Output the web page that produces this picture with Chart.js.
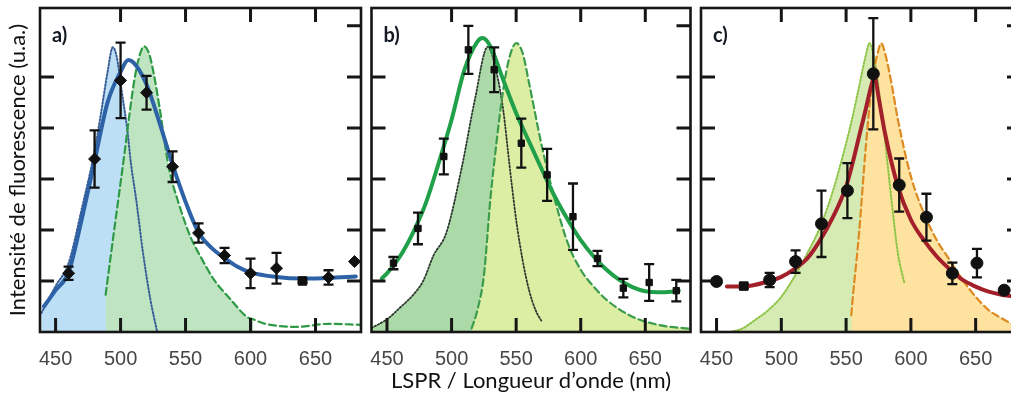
<!DOCTYPE html>
<html><head><meta charset="utf-8">
<script src="https://cdn.jsdelivr.net/npm/chart.js@4"></script>
<style>
html,body{margin:0;padding:0;background:#fff;overflow:hidden;width:1011px;height:397px;position:relative;}
canvas{position:absolute;top:0;}
</style></head><body>
<canvas id="ca" width="368" height="397" style="left:0"></canvas>
<canvas id="cb" width="330" height="397" style="left:366px"></canvas>
<canvas id="cc" width="340" height="397" style="left:694px"></canvas>
<script>
// ---------- axis ticks ----------
const X_TICKS = [450, 500, 550, 600, 650];
const X_TOP_TICKS = [500, 550, 600, 650];
const Y_LEFT_TICKS = [1, 2, 3, 4, 5];
const Y_RIGHT_TICKS = [1, 2, 3, 4, 5, 6];
const X_MIN = 438, X_MAX = 685, Y_MIN = 0, Y_MAX = 6.35;

// ---------- panel a ----------
const aX = [460, 480, 500, 520, 540, 560, 580, 600, 620, 640, 660, 680];
const aY = [1.15, 3.39, 4.93, 4.69, 3.24, 1.94, 1.5, 1.15, 1.25, 1.0, 1.07, 1.38];
const aErr = [0.13, 0.56, 0.74, 0.33, 0.3, 0.19, 0.15, 0.29, 0.3, 0.03, 0.14, 0];
const aFitX = [441, 450, 460, 470, 480, 490, 500, 506, 512, 520, 530, 540, 550, 560, 570, 580, 590, 600, 620, 640, 660, 681];
const aFitY = [0.5, 0.82, 1.17, 2.2, 3.35, 4.5, 5.1, 5.33, 5.22, 4.85, 4.1, 3.28, 2.55, 1.95, 1.65, 1.45, 1.28, 1.17, 1.08, 1.05, 1.06, 1.09];
const aDotX = [439, 450, 460, 470, 480, 485, 490, 494, 497, 501, 505, 508, 512, 517, 523, 528];
const aDotY = [0.37, 0.9, 1.35, 2.4, 3.55, 4.3, 5.1, 5.58, 5.4, 4.7, 4.0, 3.3, 2.6, 1.6, 0.63, 0.02];
const aDashX = [488.5, 493, 498, 503, 507, 511, 515, 518, 522, 526, 530, 537, 545, 554, 560, 572, 585, 597, 602, 610, 635, 660, 685];
const aDashY = [0.73, 1.6, 2.55, 3.5, 4.3, 5.0, 5.45, 5.6, 5.45, 5.0, 4.4, 3.24, 2.5, 1.85, 1.55, 1.02, 0.63, 0.3, 0.25, 0.17, 0.1, 0.16, 0.14];
const aDashFillEnd = 602;

// ---------- panel b ----------
const bX = [455, 474, 494, 513, 533, 554, 574, 594, 613, 633, 653, 674];
const bY = [1.35, 2.03, 3.44, 5.53, 5.14, 3.7, 3.08, 2.26, 1.44, 0.86, 0.97, 0.81];
const bErr = [0.12, 0.31, 0.35, 0.47, 0.44, 0.48, 0.51, 0.65, 0.15, 0.18, 0.36, 0.21];
const bFitX = [446, 450, 460, 470, 480, 490, 500, 510, 520, 524, 530, 540, 550, 560, 570, 580, 590, 600, 610, 620, 630, 640, 650, 660, 670, 676];
const bFitY = [1.05, 1.15, 1.48, 1.94, 2.52, 3.31, 4.16, 5.14, 5.69, 5.76, 5.6, 4.94, 4.29, 3.73, 3.18, 2.65, 2.2, 1.8, 1.48, 1.22, 1.02, 0.88, 0.8, 0.78, 0.79, 0.81];
const bDotX = [438, 450, 461, 470, 478, 486, 496, 508, 518, 528, 535, 540, 545, 550, 555, 560, 565, 570];
const bDotY = [0.08, 0.25, 0.5, 0.72, 1.0, 1.5, 1.95, 3.24, 4.55, 5.59, 5.07, 4.35, 3.24, 2.2, 1.41, 0.82, 0.43, 0.2];
const bDashX = [515.5, 520, 525, 530, 535, 540, 545, 550, 555, 560, 570, 580, 590, 600, 610, 620, 640, 660, 685];
const bDashY = [0.07, 0.43, 1.1, 2.59, 3.76, 4.75, 5.4, 5.66, 5.47, 4.88, 3.63, 2.59, 1.74, 1.22, 0.89, 0.63, 0.3, 0.14, 0.06];

// ---------- panel c ----------
const cX = [450, 471, 491, 511, 531, 551, 571, 591, 612, 632, 651, 672];
const cY = [0.99, 0.9, 1.02, 1.38, 2.12, 2.77, 5.06, 2.88, 2.25, 1.15, 1.35, 0.82];
const cErr = [0, 0.05, 0.14, 0.22, 0.65, 0.54, 1.09, 0.52, 0.46, 0.21, 0.28, 0];
const cFitX = [458, 470, 490, 500, 510, 520, 530, 540, 550, 555, 560, 565, 570, 572, 575, 580, 590, 600, 610, 620, 630, 640, 650, 660, 670, 685];
const cFitY = [0.89, 0.89, 0.99, 1.08, 1.23, 1.44, 1.8, 2.26, 2.85, 3.31, 3.83, 4.35, 4.88, 5.0, 4.61, 3.9, 2.85, 2.2, 1.8, 1.48, 1.23, 1.02, 0.89, 0.79, 0.73, 0.68];
const cDotX = [461, 470, 480, 490, 500, 510, 520, 530, 540, 550, 555, 560, 565, 568, 572, 575, 580, 585, 590, 595];
const cDotY = [0.0, 0.07, 0.24, 0.43, 0.69, 1.08, 1.54, 2.06, 2.78, 3.7, 4.22, 4.81, 5.4, 5.66, 5.33, 4.81, 3.76, 2.59, 1.54, 0.95];
const cDashX = [554, 555, 560, 565, 570, 575, 577, 580, 585, 590, 600, 610, 620, 630, 640, 650, 660, 670, 680, 688];
const cDashY = [0.33, 0.63, 1.94, 3.57, 4.88, 5.53, 5.66, 5.47, 4.88, 4.16, 3.05, 2.33, 1.8, 1.41, 1.02, 0.69, 0.43, 0.27, 0.14, 0.1];

const PANEL_LABELS = ['a)', 'b)', 'c)'];
const Y_TITLE = 'Intensité de fluorescence (u.a.)';
const X_TITLE = 'LSPR / Longueur d\u2019onde (nm)';

// ---------- helpers ----------
const pts = (xs, ys) => xs.map((x, i) => ({x, y: ys[i]}));

function fillSet(xs, ys, color, order) {
  return {data: pts(xs, ys), borderWidth: 0, pointRadius: 0, fill: 'origin',
    backgroundColor: color, cubicInterpolationMode: 'monotone', order};
}
function lineSet(xs, ys, color, width, dash, order) {
  return {data: pts(xs, ys), borderColor: color, borderWidth: width, borderDash: dash,
    pointRadius: 0, fill: false, cubicInterpolationMode: 'monotone', order, borderCapStyle: 'round'};
}
function pointSet(xs, ys, style, radius) {
  return {data: pts(xs, ys), showLine: false, pointStyle: style, pointRadius: radius,
    pointBackgroundColor: '#111', pointBorderColor: '#111', pointBorderWidth: 1, order: 0};
}

const panelPlugin = {
  id: 'panel',
  afterDatasetsDraw(chart, args, o) {
    const ctx = chart.ctx, ys = chart.scales.y;
    const meta = chart.getDatasetMeta(0);
    const vals = chart.data.datasets[0].data;
    ctx.save();
    ctx.strokeStyle = '#111'; ctx.lineWidth = 2.3;
    meta.data.forEach((p, i) => {
      const e = o.err[i];
      if (!e) return;
      const y1 = ys.getPixelForValue(vals[i].y + e), y2 = ys.getPixelForValue(vals[i].y - e);
      ctx.beginPath();
      ctx.moveTo(p.x, y1); ctx.lineTo(p.x, y2);
      ctx.moveTo(p.x - 5, y1); ctx.lineTo(p.x + 5, y1);
      ctx.moveTo(p.x - 5, y2); ctx.lineTo(p.x + 5, y2);
      ctx.stroke();
    });
    ctx.restore();
  },
  afterDraw(chart, args, o) {
    const ctx = chart.ctx, a = chart.chartArea, xs = chart.scales.x, ys = chart.scales.y;
    const L = 14;
    ctx.save();
    ctx.strokeStyle = '#161616';
    ctx.lineWidth = 3;
    ctx.beginPath();
    X_TICKS.forEach(v => { const x = xs.getPixelForValue(v); ctx.moveTo(x, a.bottom); ctx.lineTo(x, a.bottom - L); });
    X_TOP_TICKS.forEach(v => { const x = xs.getPixelForValue(v); ctx.moveTo(x, a.top); ctx.lineTo(x, a.top + L); });
    Y_LEFT_TICKS.forEach(v => { const y = ys.getPixelForValue(v); ctx.moveTo(a.left, y); ctx.lineTo(a.left + L, y); });
    Y_RIGHT_TICKS.forEach(v => { const y = ys.getPixelForValue(v); ctx.moveTo(a.right, y); ctx.lineTo(a.right - L, y); });
    ctx.stroke();
    ctx.lineWidth = 2.6;
    ctx.strokeRect(a.left, a.top, a.right - a.left, a.bottom - a.top);
    ctx.fillStyle = '#141a24';
    ctx.font = 'bold 20px Lato';
    ctx.textBaseline = 'alphabetic';
    ctx.fillText(o.label, a.left + 12, a.top + 34);
    ctx.restore();
  }
};

function makeChart(id, datasets, err, label, pad, yTitle, xTitle) {
  const xAxis = {
    type: 'linear', min: X_MIN, max: X_MAX, position: 'bottom',
    grid: {display: false}, border: {display: false},
    ticks: {font: {family: 'Liberation Sans', size: 20}, color: '#474747', padding: 7, maxRotation: 0, autoSkip: false},
    afterBuildTicks: s => { s.ticks = X_TICKS.map(v => ({value: v})); },
    afterFit: s => { s.height = 65; s.paddingLeft = 0; s.paddingRight = 0; },
    title: xTitle ? {display: true, text: xTitle, font: {family: 'Lato', size: 22}, color: '#111', padding: {top: 0, bottom: 3}} : {display: false}
  };
  const yAxis = {
    type: 'linear', min: Y_MIN, max: Y_MAX,
    display: !!yTitle,
    grid: {display: false}, border: {display: false},
    ticks: {display: false},
    afterFit: s => { if (yTitle) s.width = 40; },
    title: yTitle ? {display: true, text: yTitle, font: {family: 'Lato', size: 22}, color: '#111', padding: {top: 5, bottom: 0}} : {display: false}
  };
  return new Chart(document.getElementById(id), {
    type: 'line',
    data: {datasets},
    options: {
      responsive: false, animation: false, events: [],
      layout: {padding: pad},
      scales: {x: xAxis, y: yAxis},
      plugins: {legend: {display: false}, tooltip: {enabled: false}, panel: {err, label}}
    },
    plugins: [panelPlugin]
  });
}

// Panel a
makeChart('ca', [
  pointSet(aX, aY, aX.map(x => x === 640 ? 'rect' : 'rectRot'), 6),
  lineSet(aFitX, aFitY, '#2d62a6', 4, [], 1),
  lineSet(aDashX, aDashY, '#2f9a45', 2.2, [7, 4], 2),
  lineSet(aDotX, aDotY, '#3a5f96', 2, [1.5, 2], 3),
  fillSet(aDashX.filter(x => x <= aDashFillEnd), aDashY.filter((y, i) => aDashX[i] <= aDashFillEnd), '#bfe4c2', 4),
  fillSet(aDotX, aDotY, '#bcdff6', 5)
], aErr, PANEL_LABELS[0], {left: 0, right: 3, top: 8, bottom: 0}, Y_TITLE, null);

// Panel b
makeChart('cb', [
  pointSet(bX, bY, 'rect', 4.5),
  lineSet(bFitX, bFitY, '#20a048', 4, [], 1),
  lineSet(bDashX, bDashY, '#3b9c4c', 2.2, [7, 4], 2),
  lineSet(bDotX, bDotY, '#2e3a30', 1.8, [1.5, 2], 3),
  fillSet(bDashX, bDashY, '#dcedA4', 4),
  fillSet(bDotX, bDotY, '#acd9a8', 5)
], bErr, PANEL_LABELS[1], {left: 2, right: 3, top: 8, bottom: 0}, null, X_TITLE);

// Panel c
makeChart('cc', [
  pointSet(cX, cY, cX.map((x, i) => i === 1 ? 'rect' : 'circle'), 6),
  lineSet(cFitX, cFitY, '#a3202b', 4, [], 1),
  lineSet(cDashX, cDashY, '#dc8a22', 2.2, [7, 4], 2),
  lineSet(cDotX, cDotY, '#8ec447', 2, [1.5, 2], 3),
  fillSet(cDashX, cDashY, '#fde39f', 4),
  fillSet(cDotX, cDotY, '#d6ebb4', 5)
], cErr, PANEL_LABELS[2], {left: 2, right: 13, top: 8, bottom: 0}, null, null);
</script>
</body></html>
